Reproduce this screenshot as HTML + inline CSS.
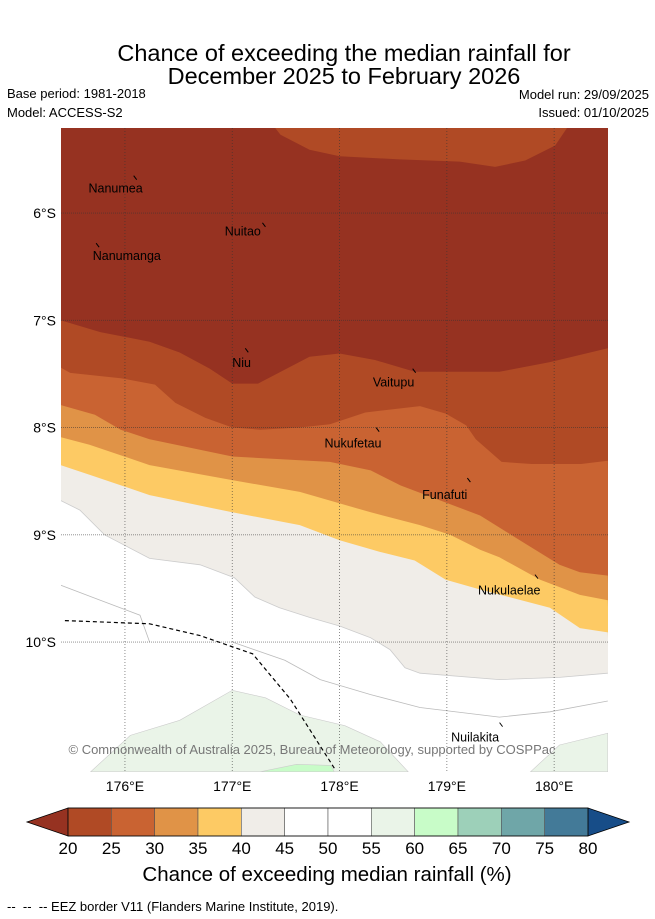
<!DOCTYPE html>
<html><head><meta charset="utf-8">
<style>
body{margin:0;background:#fff;font-family:"Liberation Sans","DejaVu Sans",sans-serif;}
#wrap{position:relative;width:655px;height:919px;overflow:hidden;}
</style></head>
<body>
<div id="wrap">
<svg id="svg" width="655" height="919" xmlns="http://www.w3.org/2000/svg" font-family="Liberation Sans, DejaVu Sans, sans-serif">
<text x="344" y="61" font-size="23.5" text-anchor="middle">Chance of exceeding the median rainfall for</text>
<text x="344" y="84" font-size="23.5" text-anchor="middle">December 2025 to February 2026</text>
<text x="7" y="98" font-size="13">Base period: 1981-2018</text>
<text x="7" y="117" font-size="13">Model: ACCESS-S2</text>
<text x="649" y="99" font-size="13" text-anchor="end">Model run: 29/09/2025</text>
<text x="649" y="117" font-size="13" text-anchor="end">Issued: 01/10/2025</text>
<defs><clipPath id="mapclip"><rect x="61" y="128" width="547" height="644"/></clipPath></defs>
<g id="map" clip-path="url(#mapclip)"></g>
<g id="axes"></g>
<g id="cbar"></g>
<text x="327" y="881" font-size="20.5" text-anchor="middle">Chance of exceeding median rainfall (%)</text>
<text x="7" y="911" font-size="13">-- &#160;-- &#160;-- EEZ border V11 (Flanders Marine Institute, 2019).</text>
</svg>
</div>
<script>
// ---- data (lon °E, lat °S) ----
const levels = [20,25,30,35,40,45,50,55,60,65,70,75,80];
const levelColors = ["#b04a25","#c96332","#e09347","#fdca64","#f0ede8","#ffffff","#ffffff","#eaf4e8","#c8fcc8","#9dd0b9","#6fa6a8","#437a98"];
const belowColor = "#963221";
const aboveColor = "#174d88";
const lonTicks = [176,177,178,179,180];
const latTicks = [6,7,8,9,10];
const c20Lon = [175.40,175.77,176.23,176.51,176.79,177.0,177.24,177.49,177.72,178.0,178.33,178.70,179.49,179.96,180.50];
const c20Lat = [7.0,7.11,7.20,7.30,7.45,7.59,7.59,7.46,7.34,7.31,7.37,7.48,7.48,7.39,7.26];
const c25Lon = [175.40,175.49,175.96,176.28,176.47,176.75,177.0,177.26,177.63,177.91,178.24,178.75,178.99,179.18,179.27,179.51,179.79,180.25,180.50];
const c25Lat = [7.44,7.49,7.54,7.60,7.77,7.91,8.0,8.02,8.0,7.97,7.86,7.80,7.87,7.98,8.11,8.32,8.34,8.34,8.31];
const c30Lon = [175.40,175.72,175.96,176.23,177.0,177.91,178.29,178.57,178.94,179.31,179.68,180.05,180.24,180.50];
const c30Lat = [7.79,7.88,8.02,8.11,8.27,8.32,8.40,8.54,8.68,8.82,9.05,9.28,9.35,9.38];
const c35Lon = [175.40,175.67,176.23,177.0,177.63,178.29,178.75,179.03,179.31,179.49,179.87,180.24,180.50];
const c35Lat = [8.09,8.16,8.35,8.49,8.60,8.79,8.91,9.0,9.14,9.21,9.42,9.56,9.61];
const c40Lon = [175.40,175.67,176.23,177.0,177.63,178.0,178.38,178.70,178.99,179.31,179.96,180.24,180.50];
const c40Lat = [8.35,8.44,8.63,8.79,8.91,9.05,9.16,9.24,9.42,9.51,9.68,9.87,9.91];
const c45Lon = [175.40,175.58,175.81,176.23,176.70,177.02,177.21,177.44,177.72,178.0,178.29,178.47,178.61,178.75,179.49,180.05,180.50];
const c45Lat = [8.68,8.77,9.0,9.22,9.28,9.40,9.58,9.68,9.77,9.85,9.96,10.07,10.24,10.29,10.35,10.33,10.29];
const c50Lon = [177.0,177.49,177.82,178.29,178.75,179.49,179.96,180.50];
const c50Lat = [10.0,10.17,10.35,10.49,10.61,10.70,10.65,10.55];
const c50bLon = [175.40,175.77,176.14,176.23];
const c50bLat = [9.47,9.61,9.75,10.0];
const g55Lon = [175.68,176.05,176.51,177.0,177.31,177.63,178.05,178.38,178.64];
const g55Lat = [11.21,10.87,10.73,10.45,10.52,10.68,10.78,10.93,11.21];
const g55bLon = [179.78,180.05,180.50,180.50];
const g55bLat = [11.21,10.96,10.85,11.21];
const g60Lon = [177.26,177.60,177.92,177.95];
const g60Lat = [11.21,11.14,11.15,11.21];
const northLon = [177.40,177.45,177.72,178.0,178.56,179.12,179.45,179.73,180.01,180.12];
const northLat = [5.207,5.27,5.41,5.47,5.50,5.52,5.57,5.51,5.37,5.207];
const eezLon = [175.44,176.23,176.70,177.19,177.54,177.96];
const eezLat = [9.80,9.83,9.94,10.11,10.53,11.19];
const islandNames = ["Nanumea","Nuitao","Nanumanga","Niu","Vaitupu","Nukufetau","Funafuti","Nukulaelae","Nuilakita"];
const islandLon = [176.10,177.30,175.75,177.14,178.70,178.36,179.21,179.84,179.51];
const islandLat = [5.67,6.11,6.30,7.28,7.47,8.02,8.49,9.39,10.77];
const labelLon = [175.66,176.93,175.70,177.0,178.31,177.86,178.77,179.29,179.04];
const labelLat = [5.77,6.17,6.40,7.40,7.58,8.15,8.63,9.52,10.89];

// ---- projection ----
const X0=61,Y0=128,PX=107.3,PY=107.25,LON0=175.404,LAT0=5.207, W=547, H=644;
const xs = lon => X0 + (lon-LON0)*PX;
const ys = lat => Y0 + (lat-LAT0)*PY;
const NS="http://www.w3.org/2000/svg";
function mk(tag, attrs, parent){const e=document.createElementNS(NS,tag);for(const k in attrs)e.setAttribute(k,attrs[k]);parent.appendChild(e);return e;}
const mapG=document.getElementById('map');
const pts=(lo,la)=>lo.map((v,i)=>xs(v).toFixed(1)+','+ys(la[i]).toFixed(1));

const bgRect=mk('rect',{x:X0,y:Y0,width:W,height:H,fill:belowColor},mapG);



const bands=[[c20Lon,c20Lat,0,'region-20-25'],[c25Lon,c25Lat,1,'region-25-30'],[c30Lon,c30Lat,2,'region-30-35'],[c35Lon,c35Lat,3,'region-35-40'],[c40Lon,c40Lat,4,'region-40-45'],[c45Lon,c45Lat,5,'region-45-55']];
bands.forEach(b=>{
  const p=pts(b[0],b[1]);
  p.push((X0+W+5)+','+(Y0+H+5)); p.push((X0-5)+','+(Y0+H+5));
  p.unshift((X0-5)+','+ys(b[1][0]).toFixed(1));
  const e=mk('polygon',{points:p.join(' '),fill:levelColors[b[2]]},mapG);
  
  
});
const l45=mk('polyline',{points:pts(c45Lon,c45Lat).join(' '),fill:'none',stroke:'#ccc','stroke-width':0.8},mapG);


[[c50Lon,c50Lat],[c50bLon,c50bLat]].forEach(c=>{
  const e=mk('polyline',{points:pts(c[0],c[1]).join(' '),fill:'none',stroke:'#bbb','stroke-width':0.8},mapG);
  
  
});
const northPoly=mk('polygon',{points:pts(northLon,northLat).join(' '),fill:levelColors[0]},mapG);


[[g55Lon,g55Lat,7,'region-55-60'],[g55bLon,g55bLat,7,'region-55-60-east'],[g60Lon,g60Lat,8,'region-60-65']].forEach(g=>{
  const e=mk('polygon',{points:pts(g[0],g[1]).join(' '),fill:levelColors[g[2]],stroke:'#ccc','stroke-width':0.6},mapG);
  
  
});
lonTicks.forEach(v=>{
  const e=mk('line',{x1:xs(v),x2:xs(v),y1:Y0,y2:Y0+H,stroke:'#333','stroke-width':0.8,'stroke-dasharray':'1,2','stroke-opacity':0.7},mapG);
  
  
});
latTicks.forEach(v=>{
  const e=mk('line',{x1:X0,x2:X0+W,y1:ys(v),y2:ys(v),stroke:'#333','stroke-width':0.8,'stroke-dasharray':'1,1','stroke-opacity':0.6},mapG);
  
  
});
const eez=mk('polyline',{points:pts(eezLon,eezLat).join(' '),fill:'none',stroke:'#000','stroke-width':1.2,'stroke-dasharray':'4,3'},mapG);


islandNames.forEach((n,i)=>{
  const d=mk('line',{x1:xs(islandLon[i])-2,y1:ys(islandLat[i])-2,x2:xs(islandLon[i])+1,y2:ys(islandLat[i])+2,stroke:'#000','stroke-width':1},mapG);
  
  
  const t=mk('text',{x:xs(labelLon[i]),y:ys(labelLat[i])+4,'font-size':12.5,fill:'#000'},mapG);
  t.textContent=n;
  
  
});
const cp=mk('text',{x:312,y:754,'font-size':13,fill:'#777','text-anchor':'middle'},mapG);
cp.textContent='© Commonwealth of Australia 2025, Bureau of Meteorology, supported by COSPPac';



const axesG=document.getElementById('axes');
lonTicks.forEach(v=>{
  const t=mk('text',{x:xs(v),y:791,'font-size':14,'text-anchor':'middle'},axesG);
  t.textContent=v+'°E';
  
  
});
latTicks.forEach(v=>{
  const t=mk('text',{x:56,y:ys(v)+5,'font-size':14,'text-anchor':'end'},axesG);
  t.textContent=v+'°S';
  
  
});

const cbG=document.getElementById('cbar');
const CX0=68,CX1=588,CY=808,CH=28, seg=(CX1-CX0)/levelColors.length;
const lowTri=mk('polygon',{points:`27,${CY+CH/2} ${CX0},${CY} ${CX0},${CY+CH}`,fill:belowColor,stroke:'#000','stroke-width':0.8},cbG);


const highTri=mk('polygon',{points:`629,${CY+CH/2} ${CX1},${CY} ${CX1},${CY+CH}`,fill:aboveColor,stroke:'#000','stroke-width':0.8},cbG);


levelColors.forEach((c,i)=>{
  const r=mk('rect',{x:CX0+i*seg,y:CY,width:seg,height:CH,fill:c,stroke:'#555','stroke-width':0.6},cbG);
  
  
});
mk('rect',{x:CX0,y:CY,width:CX1-CX0,height:CH,fill:'none',stroke:'#000','stroke-width':0.8},cbG);
levels.forEach((v,i)=>{
  const t=mk('text',{x:CX0+i*seg,y:854,'font-size':17,'text-anchor':'middle'},cbG);
  t.textContent=v;
  
  
});
</script>
</body></html>
